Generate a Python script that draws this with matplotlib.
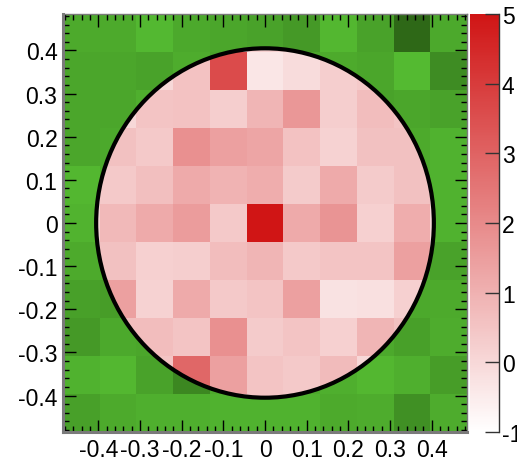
import numpy as np
import matplotlib
matplotlib.use("Agg")
import matplotlib.pyplot as plt
from matplotlib.colors import LinearSegmentedColormap
from matplotlib.patches import Circle
from matplotlib.ticker import FixedLocator, FixedFormatter, MultipleLocator

plt.rcParams["font.family"] = ["Liberation Sans", "DejaVu Sans"]

# 11 x 11 bins, rows listed from the top row down
PINK = [
    [0.0, 0.0, 0.0, 0.0, 0.5, 0.2, 0.2, 0.0, 0.0, 0.0, 0.0],
    [0.0, 0.0, 0.0, 0.55, 3.6, -0.35, -0.1, 0.25, 0.4, 0.0, 0.0],
    [0.0, 0.0, 0.5, 0.55, 0.25, 0.9, 1.65, 0.25, 0.7, 0.5, 0.0],
    [0.0, 0.6, 0.4, 1.85, 1.45, 1.3, 0.55, 0.15, 0.6, 0.6, 0.0],
    [0.0, 0.4, 0.65, 1.2, 0.95, 1.1, 0.35, 1.2, 0.35, 0.6, 0.0],
    [0.0, 0.8, 1.2, 1.55, 0.4, 5.0, 1.2, 1.75, 0.2, 1.1, 0.0],
    [0.0, 0.6, 0.2, 0.25, 0.7, 0.9, 0.4, 0.5, 0.5, 1.45, 0.0],
    [0.0, 1.45, 0.15, 1.2, 0.4, 0.5, 1.45, -0.25, -0.2, 0.2, 0.0],
    [0.0, 0.7, 0.7, 0.5, 1.85, 0.35, 0.5, 0.2, 0.9, 0.6, 0.0],
    [0.0, 0.0, 0.5, 2.9, 1.45, 0.5, 0.4, 0.75, 0.0, 0.0, 0.0],
    [0.0, 0.0, 0.0, 0.0, 0.5, 0.5, 0.5, 0.0, 0.0, 0.0, 0.0],
]
# shade of the green background bins (0 = light, 1 = dark)
GREEN = [
    [0.2, 0.2, 0.05, 0.22, 0.25, 0.3, 0.4, 0.06, 0.3, 0.95, 0.22],
    [0.25, 0.25, 0.3, 0.18, 0.3, 0.25, 0.25, 0.2, 0.25, 0.03, 0.55],
    [0.25, 0.25, 0.15, 0.25, 0.25, 0.25, 0.25, 0.25, 0.3, 0.25, 0.3],
    [0.25, 0.22, 0.25, 0.25, 0.25, 0.25, 0.25, 0.25, 0.25, 0.2, 0.12],
    [0.06, 0.2, 0.25, 0.25, 0.25, 0.25, 0.25, 0.25, 0.25, 0.2, 0.12],
    [0.1, 0.2, 0.25, 0.25, 0.25, 0.25, 0.25, 0.25, 0.25, 0.2, 0.12],
    [0.2, 0.2, 0.25, 0.25, 0.25, 0.25, 0.25, 0.25, 0.25, 0.2, 0.3],
    [0.32, 0.35, 0.25, 0.25, 0.25, 0.25, 0.25, 0.25, 0.25, 0.22, 0.2],
    [0.4, 0.22, 0.25, 0.25, 0.25, 0.25, 0.25, 0.25, 0.22, 0.32, 0.18],
    [0.12, 0.06, 0.3, 0.6, 0.2, 0.2, 0.2, 0.15, 0.06, 0.15, 0.35],
    [0.32, 0.2, 0.15, 0.15, 0.12, 0.12, 0.12, 0.2, 0.18, 0.5, 0.18],
]
TICKS = [-0.4, -0.3, -0.2, -0.1, 0.0, 0.1, 0.2, 0.3, 0.4]
TICK_LABELS = ["-0.4", "-0.3", "-0.2", "-0.1", "0", "0.1", "0.2", "0.3", "0.4"]
CB_TICKS = [-1, 0, 1, 2, 3, 4, 5]
CB_LABELS = ["-1", "0", "1", "2", "3", "4", "5"]

HALF = 0.4845
RADIUS = 0.405
FS = 16.5

edges = np.linspace(-HALF, HALF, 12)
pink_cmap = LinearSegmentedColormap.from_list("pink", ["#FFFFFF", "#D01515"])
green_cmap = LinearSegmentedColormap.from_list("grn", ["#55BC32", "#2C6416"])

fig = plt.figure(figsize=(5.17, 4.64), dpi=100)
ax = fig.add_axes([63 / 517, 31 / 464, 404 / 517, 418 / 464])
cax = fig.add_axes([470 / 517, 31 / 464, 29 / 517, 418 / 464])

ax.pcolormesh(edges, edges, np.flipud(np.array(GREEN)), cmap=green_cmap,
              vmin=0, vmax=1, shading="flat")
mesh = ax.pcolormesh(edges, edges, np.flipud(np.array(PINK)), cmap=pink_cmap,
                     vmin=-1, vmax=5, shading="flat")
clip = Circle((0, 0), RADIUS, transform=ax.transData)
mesh.set_clip_path(clip)
ax.add_patch(Circle((0, 0), RADIUS, facecolor="none", edgecolor="black",
                    lw=3.0, zorder=4))

ax.set_xlim(-HALF, HALF)
ax.set_ylim(-HALF, HALF)
for axis in (ax.xaxis, ax.yaxis):
    axis.set_major_locator(FixedLocator(TICKS))
    axis.set_major_formatter(FixedFormatter(TICK_LABELS))
    axis.set_minor_locator(MultipleLocator(0.02))
ax.tick_params(which="both", direction="in", top=True, right=True,
               color="black", width=1.0, labelsize=FS)
ax.tick_params(which="major", length=9, pad=4)
ax.tick_params(which="minor", length=4.5)
for side, sp in ax.spines.items():
    sp.set_color("#7a7a7a")
    sp.set_linewidth(2.2 if side in ("left", "bottom") else 1.0)

cb = fig.colorbar(mesh, cax=cax)
cb.outline.set_visible(False)
cb.set_ticks(CB_TICKS)
cb.set_ticklabels(CB_LABELS)
cax.tick_params(direction="in", length=10, width=1.0, color="#333333",
                labelsize=FS, pad=2)
cax.plot([1, 1], [0, 1], transform=cax.transAxes, color="#333333", lw=1.0,
         clip_on=False)

fig.savefig("out.png", dpi=100)
